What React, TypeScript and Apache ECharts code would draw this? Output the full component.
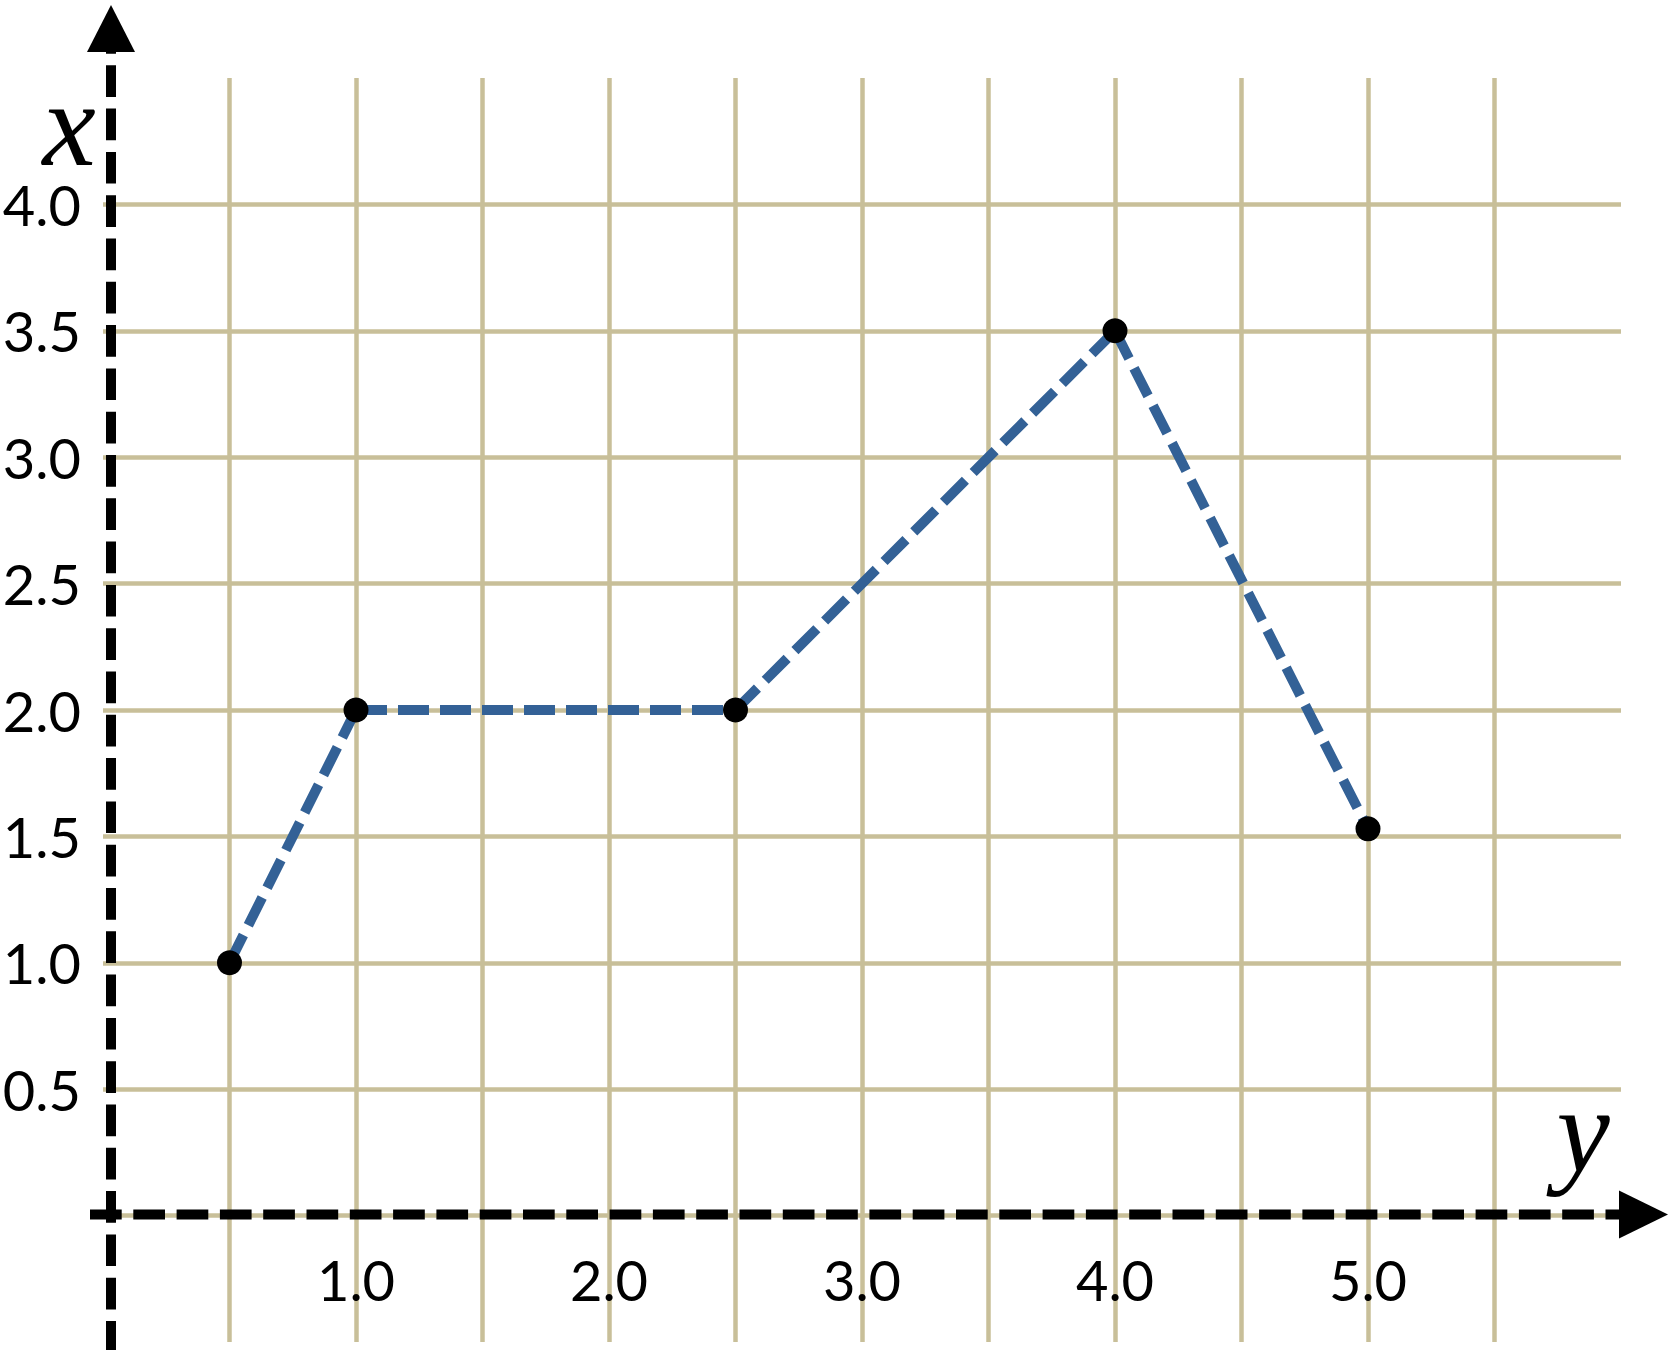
import React, { useEffect, useRef } from 'react';
import * as echarts from 'echarts';

// ---- data ----
const pointX = [0.5, 1.0, 2.5, 4.0, 5.0];
const pointY = [1.0, 2.0, 2.0, 3.5, 1.53];
const xTickLabels = ['1.0', '2.0', '3.0', '4.0', '5.0'];
const yTickLabels = ['0.5', '1.0', '1.5', '2.0', '2.5', '3.0', '3.5', '4.0'];
const verticalAxisName = 'x';
const horizontalAxisName = 'y';

// axis ranges
const X_MIN = 0;
const X_MAX = 6;
const Y_MIN = -0.5;
const Y_MAX = 4.5;
const STEP = 0.5;

const GRID_COLOR = '#c8bf99';
const LINE_COLOR = '#336196';
const LABEL_FONT = 'Lato';

export default function App() {
  const ref = useRef<HTMLDivElement>(null);

  useEffect(() => {
    if (!ref.current) return;
    const chart = echarts.init(ref.current, undefined, { renderer: 'svg' });

    const points = pointX.map((x, i) => [x, pointY[i]]);
    const segmentSeries = points.slice(0, -1).map((p, i) => ({
      type: 'line',
      data: [p, points[i + 1]],
      symbol: 'none',
      silent: true,
      z: 3,
      lineStyle: { color: LINE_COLOR, width: 10, type: [31, 11], cap: 'butt' },
    }));

    chart.setOption({
      animation: false,
      grid: {
        left: 103,
        right: 52,
        top: 78,
        bottom: 8,
        containLabel: false,
        outerBoundsMode: 'none',
      },
      xAxis: {
        type: 'value',
        position: 'bottom',
        min: X_MIN,
        max: X_MAX,
        interval: STEP,
        axisLine: { show: false, onZero: false },
        axisTick: { show: false },
        splitLine: {
          show: true,
          showMinLine: false,
          showMaxLine: false,
          lineStyle: { color: GRID_COLOR, width: 4.5 },
        },
        axisLabel: {
          margin: -91,
          fontFamily: LABEL_FONT,
          fontSize: 56,
          color: '#000',
          formatter: (v: number) => {
            const s = v.toFixed(1);
            return xTickLabels.includes(s) ? s : '';
          },
        },
      },
      yAxis: {
        type: 'value',
        min: Y_MIN,
        max: Y_MAX,
        interval: STEP,
        axisLine: { show: false },
        axisTick: { show: false },
        splitLine: {
          show: true,
          showMinLine: false,
          showMaxLine: false,
          lineStyle: { color: GRID_COLOR, width: 4.5 },
        },
        axisLabel: {
          margin: 22,
          fontFamily: LABEL_FONT,
          fontSize: 56,
          color: '#000',
          padding: [0, 0, 8, 0],
          formatter: (v: number) => {
            const s = v.toFixed(1);
            return yTickLabels.includes(s) ? s : '';
          },
        },
      },
      series: [
        ...segmentSeries,
        {
          type: 'scatter',
          data: points,
          symbol: 'circle',
          symbolSize: 25,
          itemStyle: { color: '#000', opacity: 1 },
          z: 5,
          silent: true,
        },
      ],
    });

    const px = (x: number, y: number) =>
      chart.convertToPixel({ gridIndex: 0 }, [x, y]) as number[];
    const [ox, oy] = px(0, 0);
    const [, topY] = px(0, Y_MAX);
    const [rightX] = px(X_MAX, 0);
    const H = 1350;
    const axisX = ox + 8;
    const dash = [31.7, 11.6];

    const vArrowBase = topY - 26;
    const vArrowTip = topY - 73;
    const hArrowBase = rightX - 2;
    const hArrowTip = rightX + 47;

    chart.setOption({
      graphic: [
        {
          type: 'line',
          z: 10,
          shape: { x1: axisX, y1: vArrowTip + 17, x2: axisX, y2: H },
          style: { stroke: '#000', lineWidth: 10, lineDash: dash },
        },
        {
          type: 'polygon',
          z: 11,
          shape: {
            points: [
              [axisX, vArrowTip],
              [axisX - 24, vArrowBase],
              [axisX + 24, vArrowBase],
            ],
          },
          style: { fill: '#000' },
        },
        {
          type: 'line',
          z: 10,
          shape: { x1: ox - 13, y1: oy - 1, x2: hArrowBase + 10, y2: oy - 1 },
          style: { stroke: '#000', lineWidth: 10, lineDash: dash },
        },
        {
          type: 'polygon',
          z: 11,
          shape: {
            points: [
              [hArrowTip, oy - 1],
              [hArrowBase, oy - 25],
              [hArrowBase, oy + 23],
            ],
          },
          style: { fill: '#000' },
        },
        {
          type: 'text',
          z: 12,
          x: axisX - 42,
          y: topY + 46,
          style: {
            text: verticalAxisName,
            fontFamily: 'Liberation Serif',
            fontStyle: 'italic',
            fontSize: 120,
            lineHeight: 80,
            fill: '#000',
            align: 'center',
            verticalAlign: 'middle',
          },
        },
        {
          type: 'text',
          z: 12,
          x: rightX - 38,
          y: oy - 85,
          style: {
            text: horizontalAxisName,
            fontFamily: 'Liberation Serif',
            fontStyle: 'italic',
            fontSize: 120,
            lineHeight: 80,
            fill: '#000',
            align: 'center',
            verticalAlign: 'middle',
          },
        },
      ],
    });

    return () => chart.dispose();
  }, []);

  return (
    <div
      ref={ref}
      style={{ position: 'absolute', left: 0, top: 0, width: 1673, height: 1350, background: '#fff' }}
    />
  );
}
